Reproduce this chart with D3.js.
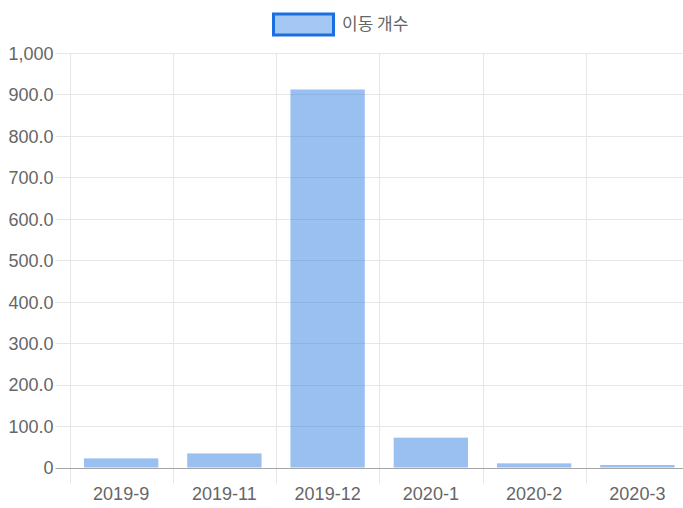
<!DOCTYPE html>
<html>
<head>
<meta charset="utf-8">
<script src="https://cdn.jsdelivr.net/npm/d3@7"></script>
<style>
  html, body { margin: 0; padding: 0; background: #fff; }
  svg { display: block; }
  text { font-family: "Liberation Sans", Arial, sans-serif; fill: #666; }
</style>
</head>
<body>
<svg id="chart" width="683" height="508"></svg>
<script>
// data
var months = ['2019-9', '2019-11', '2019-12', '2020-1', '2020-2', '2020-3'];
var moveCounts = [22, 34, 912, 72, 10, 6];
var yTicks = [0, 100, 200, 300, 400, 500, 600, 700, 800, 900, 1000];
var yTickLabels = ['0', '100.0', '200.0', '300.0', '400.0', '500.0', '600.0', '700.0', '800.0', '900.0', '1,000'];
var seriesName = '이동 개수';

var W = 683, H = 508;
// plot area (window.top is read-only, so prefix names)
var plotLeft = 69.5, plotRight = 689, plotTop = 53, plotBottom = 467.5;

var svg = d3.select('#chart');

var x = d3.scaleBand().domain(months).range([plotLeft, plotRight]).padding(0);
var y = d3.scaleLinear().domain([0, 1000]).range([plotBottom, plotTop]);

var gridColor = '#e6e6e6';

// vertical grid lines (category edges) + tick marks below the axis
var edges = months.map(function (m) { return x(m); });
svg.append('g').selectAll('line')
    .data(edges)
    .enter().append('line')
    .attr('x1', function (d) { return Math.round(d) + 0.5; })
    .attr('x2', function (d) { return Math.round(d) + 0.5; })
    .attr('y1', plotTop)
    .attr('y2', plotBottom + 16)
    .attr('stroke', gridColor)
    .attr('stroke-width', 1);

// horizontal grid lines, skip zero (drawn later, darker)
svg.append('g').selectAll('line')
    .data(yTicks.filter(function (d) { return d !== 0; }))
    .enter().append('line')
    .attr('x1', plotLeft - 14)
    .attr('x2', W)
    .attr('y1', function (d) { return Math.round(y(d)) + 0.5; })
    .attr('y2', function (d) { return Math.round(y(d)) + 0.5; })
    .attr('stroke', gridColor)
    .attr('stroke-width', 1);

// bars
var bw = x.bandwidth();
svg.append('g').selectAll('rect')
    .data(moveCounts)
    .enter().append('rect')
    .attr('x', function (d, i) { return x(months[i]) + bw * 0.14; })
    .attr('width', bw * 0.72)
    .attr('y', function (d) { return y(d); })
    .attr('height', function (d) { return y(0) - y(d); })
    .attr('fill', 'rgba(54,130,228,0.5)');

// zero line
svg.append('line')
    .attr('x1', plotLeft - 14)
    .attr('x2', W)
    .attr('y1', Math.round(y(0)) + 0.5)
    .attr('y2', Math.round(y(0)) + 0.5)
    .attr('stroke', '#a6a6a6')
    .attr('stroke-width', 1);

// y axis labels
var yAxis = d3.axisLeft(y)
    .tickValues(yTicks)
    .tickFormat(function (d, i) { return yTickLabels[i]; })
    .tickSize(0)
    .tickPadding(16);
var gy = svg.append('g')
    .attr('transform', 'translate(' + plotLeft + ',0)')
    .call(yAxis);
gy.select('.domain').remove();
gy.selectAll('text')
    .style('font-size', '18px')
    .attr('fill', '#666')
    .attr('dy', '0.35em');

// x axis labels
var xAxis = d3.axisBottom(x).tickSize(0).tickPadding(20);
var gx = svg.append('g')
    .attr('transform', 'translate(0,' + plotBottom + ')')
    .call(xAxis);
gx.select('.domain').remove();
gx.selectAll('text')
    .style('font-size', '18px')
    .attr('fill', '#666');

// legend
var legend = svg.append('g');
legend.append('rect')
    .attr('x', 273.5)
    .attr('y', 14)
    .attr('width', 60)
    .attr('height', 21)
    .attr('fill', 'rgba(54,130,228,0.45)')
    .attr('stroke', '#1a6fe0')
    .attr('stroke-width', 3);
legend.append('text')
    .attr('x', 342)
    .attr('y', 24.5)
    .attr('dy', '0.35em')
    .style('font-family', '"Noto Sans CJK KR", sans-serif')
    .style('font-size', '17px')
    .text(seriesName);
</script>
</body>
</html>
